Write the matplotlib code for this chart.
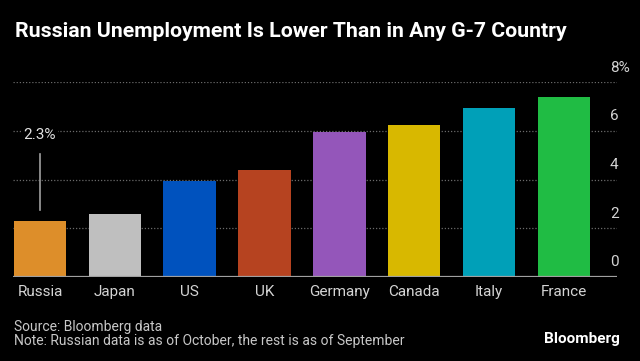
import matplotlib
matplotlib.use("Agg")
import matplotlib.pyplot as plt
from matplotlib.transforms import blended_transform_factory

countries = ["Russia", "Japan", "US", "UK", "Germany", "Canada", "Italy", "France"]
rates = [2.3, 2.6, 3.95, 4.4, 5.95, 6.25, 6.95, 7.4]
colors = ["#DD8E2A", "#BFBFBF", "#0052BE", "#B64320",
          "#9456BA", "#D8B800", "#00A0B8", "#20BC44"]
yticks = [0, 2, 4, 6, 8]
ytick_labels = ["0", "2", "4", "6", "8%"]
title = "Russian Unemployment Is Lower Than in Any G-7 Country"
source = "Source: Bloomberg data"
note = "Note: Russian data is as of October, the rest is as of September"

plt.rcParams["font.family"] = ["Roboto", "DejaVu Sans"]

fig = plt.figure(figsize=(6.4, 3.61), dpi=100, facecolor="black")
ax = fig.add_axes([13 / 640, 1 - 276.7 / 361, 604 / 640, (276.7 - 82.3) / 361])
ax.set_facecolor("black")

x = range(len(countries))
ax.bar(x, rates, width=0.7, color=colors, zorder=2)
ax.set_xlim(-0.36, 7.71)
ax.set_ylim(0, 8)

for v in yticks[1:]:
    ax.axhline(v, color="#6a6a6a", lw=0.9, ls=(0, (1, 1.5)), zorder=1)
ax.axhline(0, color="#a0a0a0", lw=1.6, zorder=3)

for s in ax.spines.values():
    s.set_visible(False)
ax.set_yticks([])
ax.set_xticks(list(x))
ax.set_xticklabels(countries, color="#d4d4d4", fontsize=11)
ax.tick_params(axis="x", length=0, pad=6)

trans = blended_transform_factory(ax.transAxes, ax.transData)
for v, lab in zip(yticks, ytick_labels):
    ax.text(0.988, v + 0.6, lab, transform=trans, ha="left", va="center",
            color="#d4d4d4", fontsize=11, clip_on=False)

# Russia callout
ax.plot([0, 0], [2.75, 5.05], color="#a0a0a0", lw=1.2, zorder=3)
ax.text(0, 5.85, "2.3%", ha="center", va="center", color="#e0e0e0", fontsize=11,
        zorder=4, bbox=dict(facecolor="black", edgecolor="none", pad=1))

fig.text(15 / 640, 1 - 36.7 / 361, title, color="white", fontsize=15.3,
         fontweight="bold", ha="left", va="baseline")
fig.text(14 / 640, 1 - 331.5 / 361, source, color="#c8c8c8", fontsize=10,
         ha="left", va="baseline")
fig.text(14 / 640, 1 - 345 / 361, note, color="#c8c8c8", fontsize=10,
         ha="left", va="baseline")
fig.text(620 / 640, 1 - 343.5 / 361, "Bloomberg", color="white", fontsize=11,
         fontweight="bold", ha="right", va="baseline")

fig.savefig("out.png", dpi=100, facecolor="black")
